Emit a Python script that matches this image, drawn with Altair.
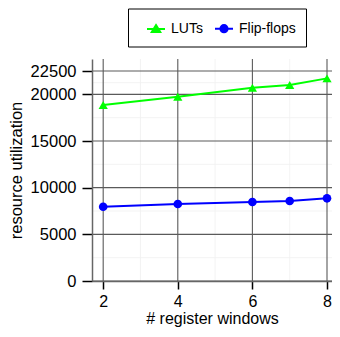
import altair as alt
import pandas as pd

windows = [2, 4, 6, 7, 8]
luts = [18850, 19750, 20710, 21000, 21710]
flipflops = [7960, 8250, 8460, 8570, 8860]
series_names = ["LUTs", "Flip-flops"]
series_colors = ["#00FF00", "#0000FF"]
x_ticks = [2, 4, 6, 8]
y_ticks = [0, 5000, 10000, 15000, 20000, 22500]
x_minor = [3, 5, 7]
y_minor = [2500, 7500, 12500, 17500, 21250]

rows = []
for w, v in zip(windows, luts):
    rows.append({"windows": w, "value": v, "series": "LUTs"})
for w, v in zip(windows, flipflops):
    rows.append({"windows": w, "value": v, "series": "Flip-flops"})
df = pd.DataFrame(rows)

FONT = "Liberation Sans"

xscale = alt.Scale(domain=[1.7, 8.134], nice=False, zero=False)
yscale = alt.Scale(domain=[0, 23786], nice=False, zero=False)

x_axis = alt.Axis(values=x_ticks, title="# register windows", grid=False,
                  tickSize=8, tickWidth=1.5, tickColor="black",
                  domainColor="#666666", domainWidth=1.5,
                  labelFontSize=16, titleFontSize=16, labelPadding=4,
                  titlePadding=1, labelColor="black", titleColor="black",
                  labelFont=FONT, titleFont=FONT, titleFontWeight="normal", zindex=1)
y_axis = alt.Axis(values=y_ticks, title="resource utilization", grid=False, format="d",
                  tickSize=10, tickWidth=1.5, tickColor="black",
                  domainColor="#666666", domainWidth=1.5,
                  labelFontSize=16.5, titleFontSize=16.5, labelPadding=6,
                  titlePadding=6, labelColor="black", titleColor="black",
                  labelFont=FONT, titleFont=FONT, titleFontWeight="normal", zindex=1)

X = alt.X("windows:Q", scale=xscale, axis=x_axis)
Y = alt.Y("value:Q", scale=yscale, axis=y_axis)

minor_v = alt.Chart(pd.DataFrame({"windows": x_minor})).mark_rule(
    color="#f0f0f0", strokeWidth=0.8).encode(x=X)
minor_h = alt.Chart(pd.DataFrame({"value": y_minor})).mark_rule(
    color="#f0f0f0", strokeWidth=0.8).encode(y=Y)
major_v = alt.Chart(pd.DataFrame({"windows": x_ticks})).mark_rule(
    color="#5a5a5a", strokeWidth=1.1).encode(x=X)
major_h = alt.Chart(pd.DataFrame({"value": y_ticks})).mark_rule(
    color="#5a5a5a", strokeWidth=1.1).encode(y=Y)

# data-driven domain (alphabetical: Flip-flops, LUTs) so it is not merged with the legend's scales
color_nolegend = alt.Color("series:N", scale=alt.Scale(range=[series_colors[1], series_colors[0]]), legend=None)

lines = alt.Chart(df).mark_line(strokeWidth=2).encode(x=X, y=Y, color=color_nolegend, detail="series:N")
pts_luts = alt.Chart(df).transform_filter(alt.datum.series == "LUTs").mark_point(
    filled=True, opacity=1, size=85, shape="triangle-up").encode(x=X, y=Y, color=color_nolegend)
pts_ff = alt.Chart(df).transform_filter(alt.datum.series == "Flip-flops").mark_point(
    filled=True, opacity=1, size=75, shape="circle").encode(x=X, y=Y, color=color_nolegend)

tri_path = "M-1,0L1,0M0,-0.42L0.47,0.36L-0.47,0.36Z"
circ_path = "M-1,0L1,0M-0.4,0A0.4,0.4 0 1,0 0.4,0A0.4,0.4 0 1,0 -0.4,0Z"

leg = alt.Legend(orient="none", legendX=36, legendY=-50.5, direction="horizontal",
                 title=" ", titleOrient="left", titleFontSize=14, titlePadding=8,
                 labelFontSize=14, labelFont=FONT, labelColor="black", labelOffset=5,
                 symbolSize=324, symbolStrokeWidth=2, columnPadding=8,
                 padding=10, fillColor="white", strokeColor="black")

legend_layer = alt.Chart(df).transform_filter("false").mark_point(
    filled=True, opacity=1, strokeWidth=2).encode(
    x=X, y=Y,
    fill=alt.Fill("series:N", scale=alt.Scale(domain=series_names, range=series_colors), legend=leg),
    stroke=alt.Stroke("series:N", scale=alt.Scale(domain=series_names, range=series_colors), legend=leg),
    shape=alt.Shape("series:N", scale=alt.Scale(domain=series_names, range=[tri_path, circ_path]), legend=leg),
)

chart = alt.layer(minor_v, minor_h, major_v, major_h, lines, pts_luts, pts_ff, legend_layer).properties(
    width=240, height=222,
    autosize=alt.AutoSizeParams(type="none"),
    padding={"left": 84, "top": 51, "right": 0, "bottom": 47},
    background="white",
).configure_view(stroke=None)

chart.save("out.html", embed_options={"renderer": "svg", "actions": False})
